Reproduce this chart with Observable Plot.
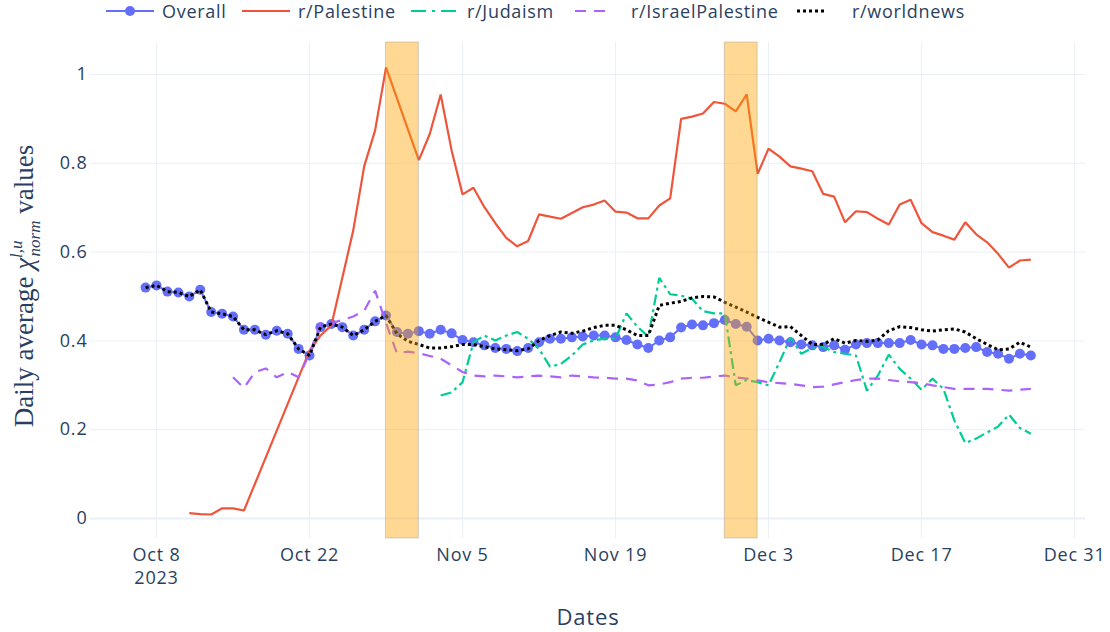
<!DOCTYPE html>
<html>
<head>
<meta charset="utf-8">
<script src="https://cdn.jsdelivr.net/npm/d3@7"></script>
<script src="https://cdn.jsdelivr.net/npm/@observablehq/plot@0.6"></script>
<style>
  body { margin: 0; background: #fff; font-family: "Open Sans", sans-serif; }
  #legend { position: relative; width: 1110px; height: 24px; }
  .item { position: absolute; top: 0; height: 24px; }
  .item svg { position: absolute; top: 0; }
  .item span { position: absolute; top: 0; line-height: 22px; font-size: 18px; letter-spacing: 0.7px; color: #2a3f5f; white-space: nowrap; }
</style>
</head>
<body>
<div id="legend"></div>
<div id="chart"></div>
<script>
// ---------- data ----------
const seriesNames = ["Overall", "r/Palestine", "r/Judaism", "r/IsraelPalestine", "r/worldnews"];

const overallStart = "2023-10-07";
const overallValues = [
  0.520, 0.525, 0.511, 0.509, 0.500, 0.515, 0.465, 0.461, 0.455, 0.425, 0.425, 0.414, 0.423, 0.416, 0.382, 0.367,
  0.431, 0.438, 0.431, 0.412, 0.425, 0.444, 0.457, 0.420, 0.416,
  0.422, 0.416, 0.425, 0.417, 0.402, 0.397, 0.390, 0.384, 0.382, 0.377, 0.384, 0.397, 0.405, 0.405, 0.408, 0.410,
  0.412, 0.412, 0.408, 0.402, 0.392, 0.384, 0.401, 0.408, 0.430, 0.437, 0.435, 0.440, 0.447, 0.438,
  0.432, 0.401, 0.405, 0.401, 0.397, 0.392, 0.390, 0.386, 0.390, 0.380, 0.392, 0.395, 0.395, 0.395, 0.395, 0.402,
  0.392, 0.390, 0.382, 0.382, 0.384, 0.386, 0.375, 0.371, 0.360, 0.371, 0.367
];

const worldnewsStart = "2023-10-07";
const worldnewsValues = [
  0.520, 0.525, 0.511, 0.509, 0.500, 0.515, 0.465, 0.461, 0.455, 0.425, 0.425, 0.414, 0.423, 0.416, 0.382, 0.367,
  0.431, 0.438, 0.431, 0.412, 0.425, 0.444, 0.457, 0.416, 0.399,
  0.392, 0.384, 0.384, 0.387, 0.392, 0.392, 0.387, 0.382, 0.380, 0.378, 0.382, 0.401, 0.412, 0.420, 0.417, 0.422,
  0.430, 0.435, 0.435, 0.425, 0.412, 0.412, 0.480, 0.485, 0.489, 0.497, 0.500, 0.499, 0.487, 0.476,
  0.465, 0.453, 0.442, 0.431, 0.432, 0.412, 0.392, 0.392, 0.405, 0.395, 0.401, 0.399, 0.402, 0.423, 0.432, 0.430,
  0.425, 0.422, 0.425, 0.427, 0.420, 0.405, 0.392, 0.380, 0.382, 0.397, 0.386
];

const palestineDates = [
  "2023-10-11", "2023-10-12", "2023-10-13", "2023-10-14", "2023-10-15", "2023-10-16", "2023-10-22", "2023-10-23",
  "2023-10-24", "2023-10-26", "2023-10-27", "2023-10-28", "2023-10-29", "2023-11-01", "2023-11-02", "2023-11-03",
  "2023-11-04", "2023-11-05", "2023-11-06", "2023-11-07", "2023-11-08", "2023-11-09", "2023-11-10", "2023-11-11",
  "2023-11-12", "2023-11-13", "2023-11-14", "2023-11-15", "2023-11-16", "2023-11-17", "2023-11-18", "2023-11-19",
  "2023-11-20", "2023-11-21", "2023-11-22", "2023-11-23", "2023-11-24", "2023-11-25", "2023-11-26", "2023-11-27",
  "2023-11-28", "2023-11-29", "2023-11-30", "2023-12-01", "2023-12-02", "2023-12-03", "2023-12-04", "2023-12-05",
  "2023-12-06", "2023-12-07", "2023-12-08", "2023-12-09", "2023-12-10", "2023-12-11", "2023-12-12", "2023-12-13",
  "2023-12-14", "2023-12-15", "2023-12-16", "2023-12-17", "2023-12-18", "2023-12-19", "2023-12-20", "2023-12-21",
  "2023-12-22", "2023-12-23", "2023-12-24", "2023-12-25", "2023-12-26", "2023-12-27"
];
const palestineValues = [
  0.012, 0.010, 0.009, 0.023, 0.023, 0.018, 0.378, 0.412,
  0.435, 0.649, 0.793, 0.874, 1.016, 0.807, 0.866, 0.955,
  0.829, 0.730, 0.745, 0.701, 0.665, 0.632, 0.613, 0.625,
  0.685, 0.680, 0.675, 0.688, 0.701, 0.707, 0.716, 0.691,
  0.689, 0.676, 0.676, 0.705, 0.721, 0.900, 0.905, 0.912,
  0.938, 0.934, 0.917, 0.955, 0.776, 0.833, 0.815, 0.793,
  0.788, 0.782, 0.731, 0.725, 0.667, 0.692, 0.690, 0.675,
  0.662, 0.707, 0.718, 0.665, 0.645, 0.637, 0.628, 0.667,
  0.640, 0.622, 0.596, 0.565, 0.581, 0.583
];

const judaismStart = "2023-11-03";
const judaismValues = [
  0.277, 0.284, 0.307, 0.397, 0.412, 0.401, 0.412, 0.420, 0.405, 0.382, 0.342, 0.348, 0.367, 0.392,
  0.401, 0.405, 0.405, 0.462, 0.432, 0.410, 0.542, 0.505, 0.502, 0.495, 0.467, 0.462, 0.462, 0.300,
  0.312, 0.307, 0.300, 0.352, 0.408, 0.371, 0.384, 0.386, 0.375, 0.371, 0.367, 0.288, 0.322, 0.369,
  0.337, 0.315, 0.290, 0.315, 0.292, 0.221, 0.170, 0.180, 0.194, 0.207, 0.234, 0.204, 0.191
];

const israelPalestineStart = "2023-10-15";
const israelPalestineValues = [
  0.318, 0.294, 0.330, 0.338, 0.318, 0.330, 0.318, 0.372, 0.440, 0.440, 0.447, 0.455, 0.468, 0.513,
  0.440, 0.372, 0.376,
  0.372, 0.366, 0.360, 0.345, 0.330, 0.322, 0.320, 0.322, 0.320, 0.318, 0.320, 0.322, 0.320, 0.318,
  0.322, 0.320, 0.318, 0.317, 0.315, 0.315, 0.311, 0.300, 0.302, 0.307, 0.315, 0.317, 0.317, 0.320,
  0.322, 0.318,
  0.315, 0.311, 0.307, 0.305, 0.303, 0.300, 0.296, 0.297, 0.302, 0.307, 0.312, 0.315, 0.315, 0.312,
  0.309, 0.307, 0.305, 0.300, 0.296, 0.292, 0.292, 0.292, 0.292, 0.290, 0.288, 0.290, 0.292
];

const bandStarts = ["2023-10-29", "2023-11-29"];
const bandEnds = ["2023-11-01", "2023-12-02"];

const xTickDates = ["2023-10-08", "2023-10-22", "2023-11-05", "2023-11-19", "2023-12-03", "2023-12-17", "2023-12-31"];
const yTickValues = [0, 0.2, 0.4, 0.6, 0.8, 1];
const xDomain = ["2023-10-01T23:00", "2024-01-01T00:00"];

// ---------- build tables ----------
const parse = d3.utcParse("%Y-%m-%d");
const parseT = d3.utcParse("%Y-%m-%dT%H:%M");
const DAY = 864e5;
const daily = (start, values) => { const t0 = +parse(start); return values.map((v, i) => ({date: new Date(t0 + i * DAY), value: v})); };
const paired = (dates, values) => dates.map((d, i) => ({date: parse(d), value: values[i]}));

const overall = daily(overallStart, overallValues);
const worldnews = daily(worldnewsStart, worldnewsValues);
const palestine = paired(palestineDates, palestineValues);
const judaism = daily(judaismStart, judaismValues);
const israelPalestine = daily(israelPalestineStart, israelPalestineValues);
const bands = bandStarts.map((s, i) => ({x1: parse(s), x2: parse(bandEnds[i])}));
const xTicks = xTickDates.map(parse);

const colors = {"Overall": "#636EFA", "r/Palestine": "#EF553B", "r/Judaism": "#00CC96", "r/IsraelPalestine": "#AB63FA", "r/worldnews": "#000000"};
const dashes = {"Overall": null, "r/Palestine": null, "r/Judaism": "11,4,3,4", "r/IsraelPalestine": "11,8", "r/worldnews": "3,3"};
const legendDashes = {"Overall": null, "r/Palestine": null, "r/Judaism": "15,6,3,6", "r/IsraelPalestine": "11,8", "r/worldnews": "3,3"};
const widths = {"Overall": 2, "r/Palestine": 2.2, "r/Judaism": 2.2, "r/IsraelPalestine": 2.2, "r/worldnews": 3};

// ---------- legend ----------
const legendPos = [{sym: 106, text: 162}, {sym: 242, text: 298}, {sym: 411, text: 467}, {sym: 575, text: 631}, {sym: 797, text: 852}];
const legend = document.getElementById("legend");
seriesNames.forEach((name, i) => {
  const it = document.createElement("div");
  it.className = "item";
  it.style.left = "0px";
  const symLen = name === "r/IsraelPalestine" ? 32 : (name === "r/worldnews" ? 29 : 48);
  let svg = `<svg width="60" height="24" style="left:${legendPos[i].sym}px"><line x1="0" x2="${symLen}" y1="11" y2="11" stroke="${colors[name]}" stroke-width="${widths[name]}" ${legendDashes[name] ? `stroke-dasharray="${legendDashes[name]}"` : ""}/>`;
  if (name === "Overall") svg += `<circle cx="24" cy="11" r="5" fill="${colors[name]}"/>`;
  svg += `</svg>`;
  it.innerHTML = svg + `<span style="left:${legendPos[i].text}px">${name}</span>`;
  legend.appendChild(it);
});

// ---------- chart ----------
const fmtDate = d3.utcFormat("%b %-d");
const lineOpts = (name) => ({x: "date", y: "value", stroke: colors[name], strokeWidth: widths[name],
  strokeDasharray: dashes[name], strokeLinecap: "butt", strokeLinejoin: "miter"});
const chart = Plot.plot({
  width: 1110,
  height: 608,
  marginTop: 18,
  marginLeft: 90,
  marginRight: 25,
  marginBottom: 94,
  style: {fontFamily: "'Open Sans', sans-serif", fontSize: "18px", letterSpacing: "0.8px", color: "#2a3f5f", background: "#fff", overflow: "visible"},
  x: {type: "utc", domain: xDomain.map(parseT)},
  y: {domain: [-0.045, 1.072]},
  marks: [
    Plot.gridX(xTicks, {stroke: "#EBF0F8", strokeOpacity: 1, strokeWidth: 1}),
    Plot.gridY(yTickValues.filter(v => v !== 0), {stroke: "#EBF0F8", strokeOpacity: 1, strokeWidth: 1}),
    Plot.ruleY([0], {stroke: "#EBF0F8", strokeWidth: 2}),
    Plot.axisX(xTicks, {tickSize: 0, tickPadding: 5, lineHeight: 1.33, label: null,
      tickFormat: (d, i) => fmtDate(d) + (i === 0 ? "\n2023" : "")}),
    Plot.axisY(yTickValues, {tickSize: 0, tickPadding: 3, label: null, tickFormat: d => String(+d.toFixed(1))}),
    Plot.line(overall, lineOpts("Overall")),
    Plot.dot(overall, {x: "date", y: "value", r: 5, fill: colors["Overall"]}),
    Plot.line(palestine, lineOpts("r/Palestine")),
    Plot.line(judaism, lineOpts("r/Judaism")),
    Plot.line(israelPalestine, lineOpts("r/IsraelPalestine")),
    Plot.line(worldnews, lineOpts("r/worldnews")),
    Plot.rect(bands, {x1: "x1", x2: "x2", fill: "orange", fillOpacity: 0.42, stroke: "#888", strokeOpacity: 0.35, strokeWidth: 1}),
    Plot.text(["Dates"], {frameAnchor: "bottom", dy: 86, fontSize: 22, fill: "#2a3f5f"})
  ]
});
document.getElementById("chart").appendChild(chart);

// y-axis title with math notation
const yt = d3.select(chart).append("text")
  .attr("transform", "translate(33,262) rotate(-90)")
  .attr("text-anchor", "middle")
  .attr("fill", "#2a3f5f")
  .style("letter-spacing", "0px")
  .style("font-family", "'Liberation Serif', 'DejaVu Serif', serif")
  .style("font-size", "27px");
yt.append("tspan").text("Daily average ");
yt.append("tspan").style("font-style", "italic").text("χ");
yt.append("tspan").attr("dy", -11).style("font-size", "17px").style("font-style", "italic").text("l,u");
yt.append("tspan").attr("dy", 18).attr("dx", -16).style("font-size", "17px").style("font-style", "italic").text("norm");
yt.append("tspan").attr("dy", -7).text(" values");
</script>
</body>
</html>
